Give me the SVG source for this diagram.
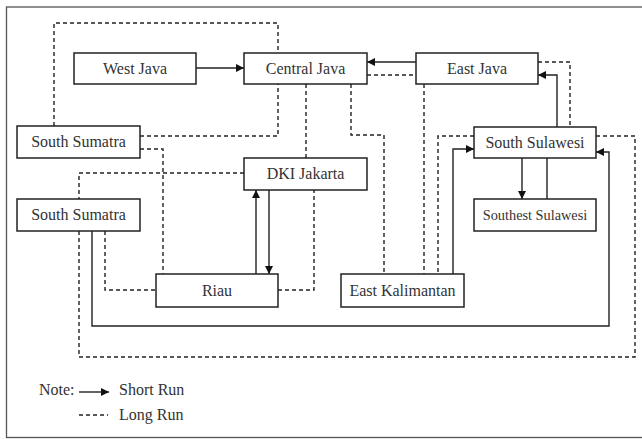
<svg xmlns="http://www.w3.org/2000/svg" width="642" height="439" viewBox="0 0 642 439">
<style>
.box{fill:#fff;stroke:#222;stroke-width:1.5}
.t{font-family:"Liberation Serif","DejaVu Serif",serif;font-size:16px;fill:#333;text-anchor:middle}
.s{fill:none;stroke:#222;stroke-width:1.4}
.d{fill:none;stroke:#222;stroke-width:1.4;stroke-dasharray:4 3}
.a{marker-end:url(#ah)}
</style>
<defs>
<marker id="ah" viewBox="0 0 10 10" refX="10" refY="5" markerWidth="8" markerHeight="8" markerUnits="userSpaceOnUse" orient="auto">
<path d="M0,0 L10,5 L0,10 z" fill="#111"/>
</marker>
</defs>
<rect x="6.5" y="7" width="645" height="430.5" fill="#fff" stroke="#555" stroke-width="1.3"/>
<g id="connectors">
<line class="s a" x1="196" y1="68" x2="244" y2="68"/>
<line class="s a" x1="416" y1="62" x2="367" y2="62"/>
<line class="d" x1="367" y1="75" x2="416" y2="75"/>
<polyline class="d" points="54,126 54,23 278,23 278,53"/>
<polyline class="d" points="140,136 278,136 278,84"/>
<line class="d" x1="306" y1="84" x2="306" y2="158"/>
<polyline class="d" points="351,84 351,135 384,135 384,274"/>
<line class="d" x1="424" y1="84" x2="424" y2="274"/>
<polyline class="d" points="538,62 570,62 570,127"/>
<polyline class="s a" points="557,127 557,75 538,75"/>
<line class="s a" x1="522" y1="158" x2="522" y2="199"/>
<line class="s" x1="547" y1="199" x2="547" y2="158"/>
<polyline class="d" points="474,136 438,136 438,274"/>
<polyline class="s a" points="453,274 453,149 474,149"/>
<polyline class="d" points="596,136 635,136 635,357 79,357 79,231"/>
<polyline class="s a" points="92,231 92,326 609,326 609,152 596,152"/>
<polyline class="d" points="244,173 79,173 79,199"/>
<polyline class="d" points="140,149 163,149 163,274"/>
<polyline class="d" points="105,231 105,290 156,290"/>
<polyline class="d" points="278,290 314,290 314,190"/>
<line class="s a" x1="256" y1="274" x2="256" y2="190"/>
<line class="s a" x1="269" y1="190" x2="269" y2="274"/>
</g>
<g id="west-java"><rect class="box" x="74" y="53" width="122" height="31"/><text class="t" x="135" y="74">West Java</text></g>
<g id="central-java"><rect class="box" x="244" y="53" width="123" height="31"/><text class="t" x="305.5" y="74">Central Java</text></g>
<g id="east-java"><rect class="box" x="416" y="53" width="122" height="31"/><text class="t" x="477" y="74">East Java</text></g>
<g id="south-sumatra-1"><rect class="box" x="17" y="126" width="123" height="32"/><text class="t" x="78.5" y="147">South Sumatra</text></g>
<g id="dki-jakarta"><rect class="box" x="244" y="158" width="123" height="32"/><text class="t" x="305.5" y="179">DKI Jakarta</text></g>
<g id="south-sulawesi"><rect class="box" x="474" y="127" width="122" height="31"/><text class="t" x="535" y="148">South Sulawesi</text></g>
<g id="southest-sulawesi"><rect class="box" x="474" y="199" width="122" height="32"/><text class="t" x="535" y="220" style="font-size:14.3px">Southest Sulawesi</text></g>
<g id="south-sumatra-2"><rect class="box" x="17" y="199" width="123" height="32"/><text class="t" x="78.5" y="220">South Sumatra</text></g>
<g id="riau"><rect class="box" x="156" y="274" width="122" height="33"/><text class="t" x="217" y="296">Riau</text></g>
<g id="east-kalimantan"><rect class="box" x="341" y="274" width="123" height="33"/><text class="t" x="402.5" y="296">East Kalimantan</text></g>
<g id="legend">
<text class="t" x="39" y="395" style="text-anchor:start">Note:</text>
<line class="s a" x1="79" y1="392" x2="109" y2="392"/>
<text class="t" x="119" y="395" style="text-anchor:start">Short Run</text>
<line class="d" x1="79" y1="415" x2="108" y2="415"/>
<text class="t" x="119" y="420" style="text-anchor:start">Long Run</text>
</g>
</svg>
